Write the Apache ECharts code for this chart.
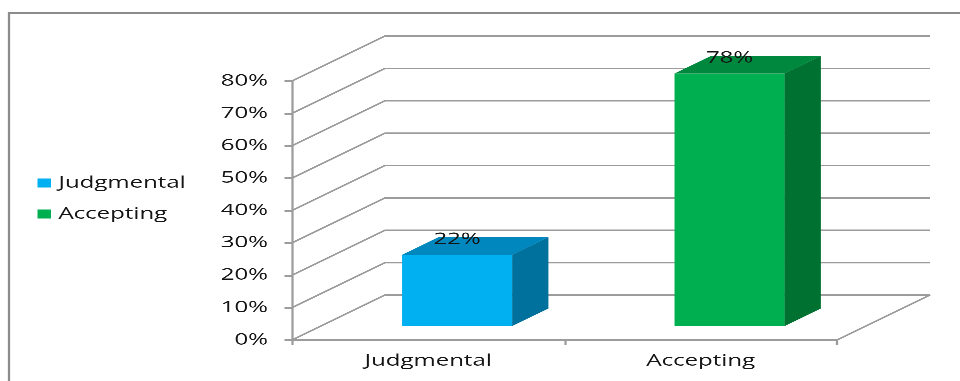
<!DOCTYPE html>
<html>
<head>
<meta charset="utf-8">
<script src="https://cdn.jsdelivr.net/npm/echarts@6/dist/echarts.min.js"></script>
<style>
  html, body { margin: 0; padding: 0; background: #fff; }
  #wrap { width: 960px; height: 381px; overflow: hidden; position: relative; background: #fff; }
  /* the chart is laid out on a narrower canvas and widened horizontally */
  #chart { width: 640px; height: 381px; transform: scaleX(1.5); transform-origin: 0 0; }
</style>
</head>
<body>
<div id="wrap"><div id="chart"></div></div>
<script>
// ---- data ----
const categories = ['Judgmental', 'Accepting'];
const values = [0.22, 0.78];
const yTicks = [0, 0.1, 0.2, 0.3, 0.4, 0.5, 0.6, 0.7, 0.8];

// ---- styling ----
const frontColors = ['#00B0F0', '#00B050'];
const topColors = ['#0087BD', '#00893E'];
const sideColors = ['#00709C', '#007131'];
const FONT = 'Open Sans';
const TEXT = '#151515';
const GRID = '#9c9c9c';

// oblique projection of the depth axis (pixels of the unwidened canvas)
const DX = 62, DY = 45;
const FRONT = 0.31, BACK = 0.70;
const BAR_RATIO = 0.404;

const chart = echarts.init(document.getElementById('chart'), null, { renderer: 'canvas', devicePixelRatio: 3 });

function renderGridLine(params, api) {
  const cs = params.coordSys;
  const y = api.coord([0, api.value(1)])[1];
  const children = [{
    type: 'polyline',
    shape: { points: [[cs.x, y], [cs.x + DX, y - DY], [cs.x + cs.width + DX, y - DY]] },
    style: { stroke: GRID, lineWidth: 1.5, fill: null }
  }];
  if (params.dataIndex === 0) {
    children.push({
      type: 'line',
      shape: { x1: cs.x + cs.width, y1: y, x2: cs.x + cs.width + DX, y2: y - DY },
      style: { stroke: GRID, lineWidth: 1.5 }
    });
  }
  return { type: 'group', children };
}

function renderBar(params, api) {
  const i = api.value(0), v = api.value(1);
  const base = api.coord([i, 0]);
  const top = api.coord([i, v]);
  const w = api.size([1, 0])[0] * BAR_RATIO;
  const fx = FRONT * DX, fy = FRONT * DY;
  const ddx = (BACK - FRONT) * DX, ddy = (BACK - FRONT) * DY;
  const x0 = base[0] - w / 2 + fx, x1 = x0 + w;
  const yb = base[1] - fy, yt = top[1] - fy;
  return {
    type: 'group',
    children: [
      { type: 'rect', shape: { x: x0, y: yt, width: w, height: yb - yt }, style: { fill: frontColors[i] } },
      { type: 'polygon', shape: { points: [[x0, yt], [x1, yt], [x1 + ddx, yt - ddy], [x0 + ddx, yt - ddy]] }, style: { fill: topColors[i] } },
      { type: 'polygon', shape: { points: [[x1, yt], [x1 + ddx, yt - ddy], [x1 + ddx, yb - ddy], [x1, yb]] }, style: { fill: sideColors[i] } },
      { type: 'text', x: x0 + w / 2, y: yt - ddy + 2,
        style: { text: Math.round(v * 100) + '%', fill: TEXT, font: '16px "' + FONT + '"', align: 'center', verticalAlign: 'middle' } }
    ]
  };
}

const barSeries = categories.map((name, i) => ({
  name: name,
  type: 'custom',
  renderItem: renderBar,
  data: [[i, values[i]]],
  encode: { x: 0, y: 1 },
  itemStyle: { color: frontColors[i] },
  silent: true,
  z: 3
}));

chart.setOption({
  animation: false,
  backgroundColor: '#ffffff',
  textStyle: { fontFamily: FONT },
  graphic: [{
    type: 'rect',
    shape: { x: 6, y: 13, width: 700, height: 420 },
    style: { fill: null, stroke: '#8c8c8c', lineWidth: 1.5 },
    silent: true
  }],
  legend: {
    orient: 'vertical',
    left: 25,
    top: 175,
    padding: 0,
    itemWidth: 9,
    itemHeight: 9,
    itemGap: 15,
    icon: 'rect',
    data: categories,
    textStyle: { fontFamily: FONT, fontSize: 16, color: TEXT }
  },
  grid: { left: 194.67, right: 82, top: 81, bottom: 41 },
  xAxis: {
    type: 'category',
    data: categories,
    axisLine: { show: true, lineStyle: { color: GRID, width: 1.5 } },
    axisTick: { show: true, length: 5, lineStyle: { color: GRID, width: 1.5 } },
    axisLabel: { fontFamily: FONT, fontSize: 16, color: TEXT, margin: 13 },
    splitLine: { show: false }
  },
  yAxis: {
    type: 'value',
    min: yTicks[0],
    max: yTicks[yTicks.length - 1],
    interval: yTicks[1] - yTicks[0],
    axisLine: { show: true, lineStyle: { color: GRID, width: 1.5 } },
    axisTick: { show: true, length: 5, lineStyle: { color: GRID, width: 1.5 } },
    axisLabel: { fontFamily: FONT, fontSize: 16, color: TEXT, margin: 16,
      formatter: v => Math.round(v * 100) + '%' },
    splitLine: { show: false }
  },
  series: [{
    type: 'custom',
    renderItem: renderGridLine,
    data: yTicks.map(v => [0, v]),
    encode: { x: 0, y: 1 },
    silent: true,
    z: 1
  }].concat(barSeries)
});
</script>
</body>
</html>
